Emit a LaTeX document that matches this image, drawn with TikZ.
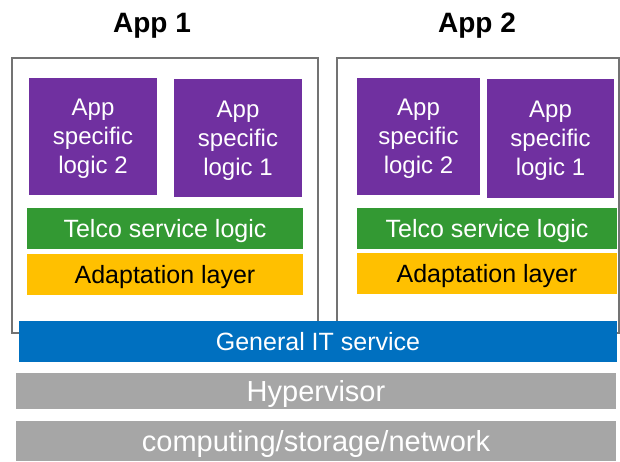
\documentclass[tikz,border=0pt]{standalone}
\usepackage{fontspec}
\setmainfont{Liberation Sans}
\usepackage{tikz}
\usepackage{color}

\definecolor{apppurple}{HTML}{7030A0}
\definecolor{telcogreen}{HTML}{339933}
\definecolor{adaptyellow}{HTML}{FFC000}
\definecolor{itblue}{HTML}{0070C0}
\definecolor{hwgray}{HTML}{A6A6A6}
\definecolor{framegray}{HTML}{737373}

\begin{document}
\begin{tikzpicture}[x=1pt,y=-1pt]

\tikzset{LayerStyle/.style = {rectangle, inner sep = 0pt, align = center, text = white,
                              text depth = 0pt, font = \fontsize{25}{30}\selectfont}}
\tikzset{AppStyle/.style = {LayerStyle, fill = apppurple, font = \fontsize{24}{28.8}\selectfont}}
\tikzset{TitleStyle/.style = {inner sep = 0pt, text depth = 0pt, font = \fontsize{28}{33}\selectfont\bfseries}}

\useasboundingbox (0,0) rectangle (620,461);

\node[TitleStyle] (title1) at (152,22.5) {App 1};
\node[TitleStyle] (title2) at (477,22.5) {App 2};

\draw[framegray, line width=1.5pt] (12,58) rectangle (318,333);
\draw[framegray, line width=1.5pt] (337,58) rectangle (619,333);

\node[AppStyle, minimum width=128pt, minimum height=117pt] (a1l2) at (93,136.5) {App\\specific\\logic 2};
\node[AppStyle, minimum width=128pt, minimum height=118pt] (a1l1) at (238,138) {App\\specific\\logic 1};
\node[AppStyle, minimum width=123pt, minimum height=117pt] (a2l2) at (418.5,136.5) {App\\specific\\logic 2};
\node[AppStyle, minimum width=127pt, minimum height=119pt] (a2l1) at (550.5,138.5) {App\\specific\\logic 1};

\node[LayerStyle, fill=telcogreen, minimum width=276pt, minimum height=41pt] (telco1) at (165,228.5) {Telco service logic};
\node[LayerStyle, fill=telcogreen, minimum width=260pt, minimum height=41pt] (telco2) at (487,228.5) {Telco service logic};

\node[LayerStyle, fill=adaptyellow, text=black, minimum width=276pt, minimum height=41pt] (adapt1) at (165,274.5) {Adaptation layer};
\node[LayerStyle, fill=adaptyellow, text=black, minimum width=260pt, minimum height=41pt] (adapt2) at (487,273.5) {Adaptation layer};

\node[LayerStyle, fill=itblue, minimum width=598pt, minimum height=41pt] (itsvc) at (318,341.5) {General IT service};

\node[LayerStyle, fill=hwgray, minimum width=600pt, minimum height=36pt,
      font=\fontsize{29}{34}\selectfont] (hyper) at (316,391) {Hypervisor};
\node[LayerStyle, fill=hwgray, minimum width=600pt, minimum height=40pt,
      font=\fontsize{29}{34}\selectfont] (infra) at (316,441) {computing/storage/network};

\end{tikzpicture}
\end{document}
